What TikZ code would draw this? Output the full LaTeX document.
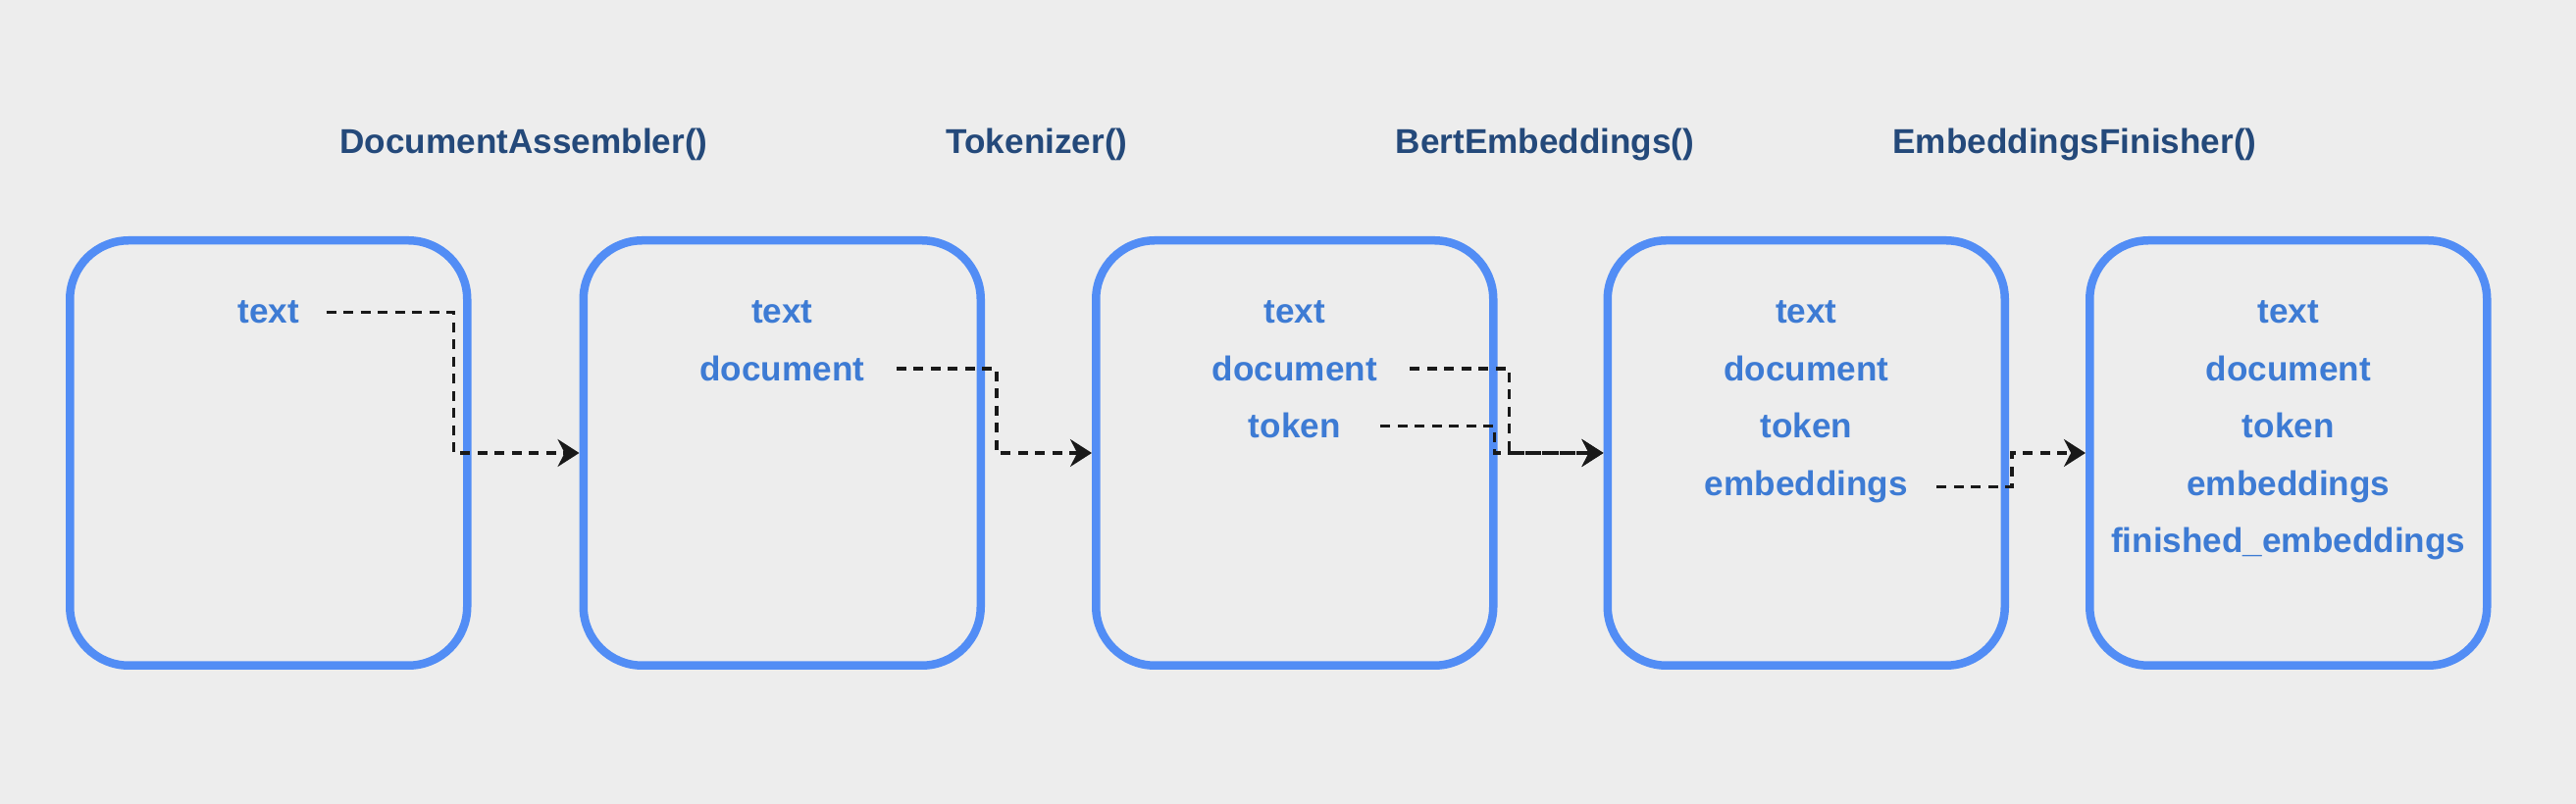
\documentclass[tikz,border=0pt]{standalone}
\usepackage{fontspec}
\setmainfont{Liberation Sans}
\usepackage{tikz}
\usetikzlibrary{arrows.meta, positioning}

\definecolor{bggray}{HTML}{EDEDED}
\definecolor{boxblue}{HTML}{528DF5}
\definecolor{lblblue}{HTML}{3D7BD4}
\definecolor{ttlblue}{HTML}{24497A}

\begin{document}
\begin{tikzpicture}[
    stage/.style={draw=boxblue, line width=0.085cm, rounded corners=0.6cm,
        minimum width=4.05cm, minimum height=4.335cm, inner sep=0pt},
    lbl/.style={font=\fontsize{10pt}{12pt}\selectfont\bfseries, text=lblblue,
        inner sep=0pt, anchor=base},
    ttl/.style={font=\fontsize{10pt}{12pt}\selectfont\bfseries, text=ttlblue,
        inner sep=0pt, anchor=base},
    flow/.style={draw=black!90, line width=1pt, dash pattern=on 1mm off 0.75mm,
        -{Stealth[length=2.2mm, width=2.8mm]}}]
    \useasboundingbox[fill=bggray] (0,0) rectangle (26.26,8.20);

    % stages
    \node[stage] (b1) at (2.7375,3.58) {};
    \node[stage, right=1.10cm of b1] (b2) {};
    \node[stage, right=1.09cm of b2] (b3) {};
    \node[stage, right=1.08cm of b3] (b4) {};
    \node[stage, right=0.78cm of b4] (b5) {};

    % annotators
    \node[ttl] (da) at (5.34,6.63) {DocumentAssembler()};
    \node[ttl] (tok) at (10.57,6.63) {Tokenizer()};
    \node[ttl] (bert) at (15.75,6.63) {BertEmbeddings()};
    \node[ttl] (fin) at (21.15,6.63) {EmbeddingsFinisher()};

    % columns
    \node[lbl] (txt1) at ([yshift=13.2mm]b1.center) {text};

    \node[lbl] (txt2) at ([yshift=13.2mm]b2.center) {text};
    \node[lbl] (doc2) at ([yshift=-5.85mm]txt2.base) {document};

    \node[lbl] (txt3) at ([yshift=13.2mm]b3.center) {text};
    \node[lbl] (doc3) at ([yshift=-5.85mm]txt3.base) {document};
    \node[lbl] (tok3) at ([yshift=-5.85mm]doc3.base) {token};

    \node[lbl] (txt4) at ([yshift=13.2mm]b4.center) {text};
    \node[lbl] (doc4) at ([yshift=-5.85mm]txt4.base) {document};
    \node[lbl] (tok4) at ([yshift=-5.85mm]doc4.base) {token};
    \node[lbl] (emb4) at ([yshift=-5.85mm]tok4.base) {embeddings};

    \node[lbl] (txt5) at ([yshift=13.2mm]b5.center) {text};
    \node[lbl] (doc5) at ([yshift=-5.85mm]txt5.base) {document};
    \node[lbl] (tok5) at ([yshift=-5.85mm]doc5.base) {token};
    \node[lbl] (emb5) at ([yshift=-5.85mm]tok5.base) {embeddings};
    \node[lbl] (fe5) at ([yshift=-5.85mm]emb5.base) {finished\_embeddings};

    % flows
    \draw[flow] ([xshift=2.7mm]txt1.east) -| ([xshift=-1.8mm]b1.east) -- (b2.west);
    \draw[flow] ([xshift=3.2mm]doc2.east) -| ([xshift=1.2mm]b2.east) -- (b3.west);
    \draw[flow] ([xshift=3.3mm]doc3.east) -| ([xshift=1.2mm]b3.east) -- (b4.west);
    \draw[flow] ([xshift=4mm]tok3.east) -| ([xshift=-0.3mm]b3.east) -- (b4.west);
    \draw[flow] ([xshift=2.9mm]emb4.east) -| ([xshift=0.3mm]b4.east) -- (b5.west);
\end{tikzpicture}
\end{document}
